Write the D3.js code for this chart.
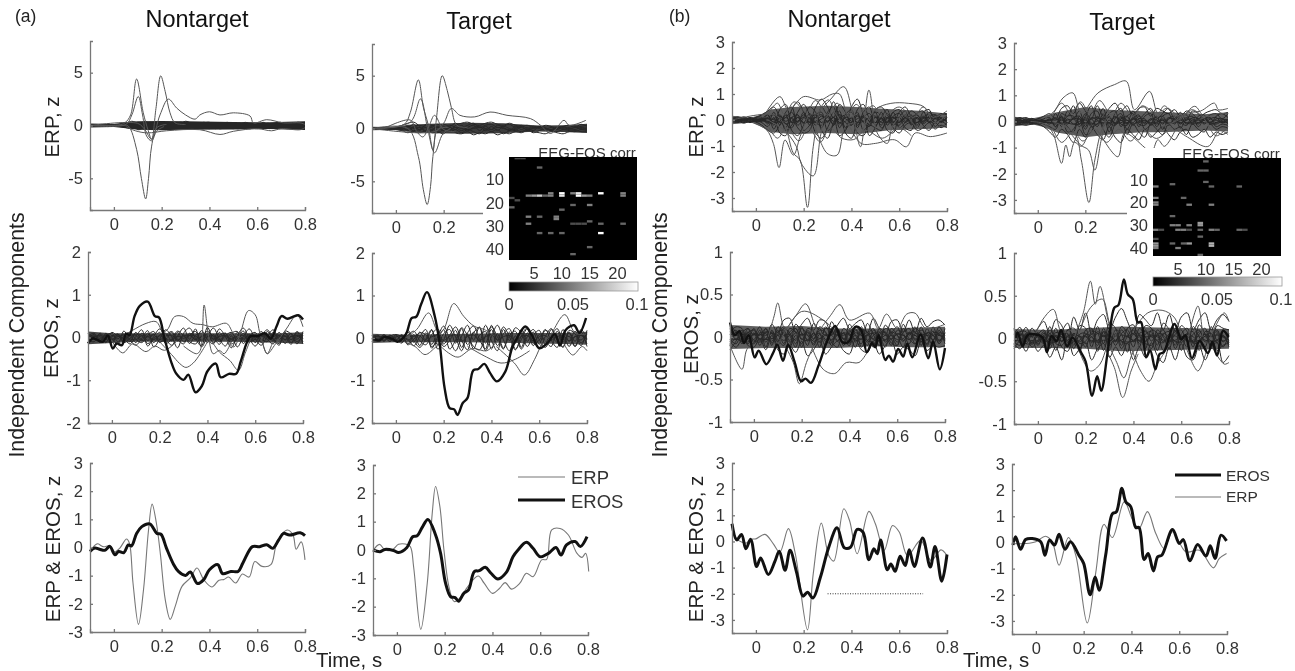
<!DOCTYPE html>
<html>
<head>
<meta charset="utf-8">
<script src="https://cdn.jsdelivr.net/npm/d3@7"></script>
<style>
  html, body { margin: 0; background: #fff; }
  svg { display: block; filter: blur(0.35px); font-family: "Liberation Sans", Arial, sans-serif; }
</style>
</head>
<body>
<svg id="chart" width="1295" height="671"></svg>
<script>
// Grand average traces, as [time, z] at the turning points
const aNtEros = [[-.1,-.14],[-.08,-.02],[-.06,-.06],[-.038,-.1],[-.017,.04],[.004,-.26],[.02,-.14],[.042,-.18],[.06,.09],[.074,.06],[.095,.5],[.117,.74],[.15,.84],[.18,.5],[.197,.47],[.22,-.02],[.25,-.6],[.27,-.85],[.3,-.99],[.32,-.87],[.35,-1.28],[.376,-1.14],[.4,-.79],[.435,-.61],[.455,-.93],[.49,-.85],[.52,-.85],[.54,-.55],[.58,.03],[.61,.03],[.64,.1],[.665,-.03],[.69,.27],[.71,.5],[.735,.44],[.78,.52],[.8,.42]];
const aNtErp = [[-.1,-.14],[-.07,.13],[-.045,.03],[-.017,.06],[.004,-.15],[.025,-.02],[.053,.3],[.065,.15],[.08,-1.26],[.103,-2.73],[.124,-1.5],[.145,.62],[.16,1.54],[.178,.86],[.195,-.26],[.215,-1.85],[.236,-2.55],[.257,-2.08],[.285,-1.38],[.32,-1.08],[.348,-.73],[.376,-1.14],[.41,-1.4],[.44,-1.16],[.46,-1.14],[.48,-1.05],[.51,-1.26],[.538,-.94],[.566,-1.05],[.59,-.5],[.62,-.67],[.657,-.61],[.678,.03],[.706,.5],[.727,.62],[.75,.44],[.763,-.06],[.784,.2],[.8,-.44]];
const aTEros = [[-.1,0],[-.07,-.06],[-.05,.02],[-.014,-.02],[.007,-.09],[.042,.09],[.066,.47],[.085,.5],[.106,.8],[.13,1.08],[.162,.53],[.183,-.12],[.204,-1.18],[.225,-1.65],[.244,-1.68],[.258,-1.81],[.28,-1.53],[.3,-1.41],[.324,-.76],[.345,-.73],[.37,-.61],[.394,-.82],[.423,-1.02],[.458,-.79],[.486,-.24],[.507,0],[.542,.27],[.57,.06],[.6,-.24],[.634,-.12],[.666,.09],[.687,-.18],[.71,.18],[.746,.3],[.768,.12],[.796,.47]];
const aTErp = [[-.1,-.02],[-.073,.2],[-.05,0],[-.02,0],[.007,.2],[.035,.21],[.056,.12],[.07,-.59],[.1,-2.8],[.127,-1.18],[.148,1.3],[.162,2.24],[.18,1.53],[.197,0],[.218,-1.3],[.24,-1.82],[.268,-1.65],[.296,-1.3],[.34,-.92],[.366,-1.18],[.4,-1.53],[.43,-1.35],[.453,-1.15],[.48,-1.38],[.514,-1.18],[.542,-.82],[.57,-.94],[.606,-.35],[.627,-.33],[.648,.71],[.683,.76],[.718,.53],[.754,-.12],[.775,-.26],[.79,-.12],[.803,-.76]];
const bNtEros = [[-.1,.68],[-.08,.06],[-.06,.27],[-.042,-.28],[-.022,.08],[.003,-.96],[.02,-.63],[.052,-1.26],[.08,-.75],[.098,-.37],[.122,-1.1],[.143,-.34],[.17,-1.17],[.197,-2.09],[.216,-1.94],[.239,-2.16],[.27,-1.37],[.305,-.22],[.34,.52],[.37,-.24],[.396,-.22],[.424,.46],[.448,.36],[.473,-.7],[.494,-.28],[.508,-.47],[.522,.06],[.55,-1.08],[.565,-.86],[.583,-1.14],[.604,-.57],[.625,-.92],[.642,-.32],[.663,-.96],[.698,.13],[.73,-.98],[.75,-.19],[.778,-1.52],[.8,-.5]];
const bNtErp = [[-.1,.6],[-.08,.1],[-.04,-.06],[-.022,.08],[0,.1],[.038,.27],[.073,-.09],[.1,-.41],[.136,.49],[.165,-.47],[.216,-3.38],[.24,-1.24],[.274,.7],[.305,-.54],[.326,-.75],[.368,1.25],[.392,.8],[.424,-.47],[.473,1.15],[.5,.68],[.537,-.34],[.572,.61],[.6,.36],[.635,-.54],[.69,.04],[.733,-.73],[.775,-.32],[.8,-.54]];
const bTEros = [[-.096,-.1],[-.085,.22],[-.064,-.26],[-.043,.11],[-.015,.15],[.02,.03],[.038,-.49],[.057,.09],[.078,-.1],[.097,.31],[.122,-.26],[.145,.03],[.18,-.49],[.2,-.8],[.227,-2],[.248,-1.32],[.265,-1.83],[.292,-.49],[.32,1.09],[.337,1.17],[.36,2.07],[.376,1.56],[.397,1.37],[.418,.57],[.432,.57],[.453,-.65],[.47,-.42],[.492,-1.09],[.51,-.55],[.527,-.49],[.572,.5],[.6,-.04],[.617,.11],[.645,-.7],[.677,-.08],[.712,-.52],[.73,-.13],[.75,-.61],[.775,.28],[.798,.06]];
const bTErp = [[-.1,-.05],[-.043,-.04],[0,.03],[.04,.24],[.068,.03],[.097,-.87],[.136,.19],[.167,-.49],[.215,-3.08],[.25,-1.19],[.285,.69],[.32,.19],[.37,1.56],[.405,.86],[.432,.54],[.467,1.18],[.502,.34],[.537,-.23],[.572,.41],[.628,-.36],[.685,-.3],[.743,-.97],[.768,-.61],[.798,-.42]];

// Same components on the EROS panels of (b), which have their own z range
const bNtErosComp = [[-.1,.17],[-.08,.02],[-.06,.07],[-.042,-.07],[-.022,.02],[.003,-.24],[.02,-.16],[.052,-.32],[.08,-.19],[.098,-.09],[.122,-.28],[.143,-.09],[.17,-.29],[.197,-.52],[.216,-.49],[.239,-.54],[.27,-.34],[.305,-.06],[.34,.13],[.37,-.06],[.396,-.06],[.424,.12],[.448,.09],[.473,-.18],[.494,-.07],[.508,-.12],[.522,.02],[.55,-.27],[.565,-.22],[.583,-.29],[.604,-.14],[.625,-.23],[.642,-.08],[.663,-.24],[.698,.03],[.73,-.25],[.75,-.05],[.778,-.38],[.8,-.13]];
const bTErosComp = [[-.096,-.03],[-.085,.07],[-.064,-.09],[-.043,.04],[-.015,.05],[.02,.01],[.038,-.16],[.057,.03],[.078,-.03],[.097,.1],[.122,-.09],[.145,.01],[.18,-.16],[.2,-.27],[.227,-.67],[.248,-.44],[.265,-.61],[.292,-.16],[.32,.36],[.337,.39],[.36,.69],[.376,.52],[.397,.46],[.418,.19],[.432,.19],[.453,-.22],[.47,-.14],[.492,-.36],[.51,-.18],[.527,-.16],[.572,.17],[.6,-.01],[.617,.04],[.645,-.23],[.677,-.03],[.712,-.17],[.73,-.04],[.75,-.2],[.775,.09],[.798,.02]];

// Individual components that stand clear of the bundle
const aNtErpOut = [
  [[-.1,0],[.02,.05],[.046,.25],[.07,1],[.095,4.4],[.123,1.2],[.144,-.5],[.158,-1.3],[.176,1.6],[.196,4.7],[.215,3.2],[.235,1.2],[.256,.25],[.3,.1]],
  [[-.1,0],[.03,0],[.06,-.05],[.095,-2.25],[.115,-5],[.133,-6.95],[.145,-5],[.158,-1.95],[.18,-.2],[.22,.1]],
  [[-.1,0],[.05,.1],[.075,1],[.102,2.75],[.12,1],[.137,-1],[.158,-1.45],[.18,-.5],[.21,-.1]],
  [[-.1,0],[.1,.2],[.13,-.4],[.158,-1.3],[.193,1],[.228,2.5],[.263,1.65],[.3,1],[.34,.6],[.36,1],[.4,1.3],[.444,1],[.5,1.2],[.57,.9],[.584,.25],[.64,.55],[.71,.25],[.78,.25],[.8,.1]],
  [[.05,-.1],[.09,-.5],[.14,-.7],[.22,-.5],[.36,-.4],[.444,-.85],[.5,-.55],[.6,-.3],[.66,-.5],[.7,-.3],[.78,-.4],[.8,-.2]]
];
const aTErpOut = [
  [[-.1,0],[.035,.4],[.06,1.5],[.094,4.6],[.115,2],[.134,.47],[.155,-2],[.17,1],[.194,5],[.215,3.6],[.232,2],[.255,.3],[.3,.1]],
  [[-.1,0],[.05,0],[.094,-2.65],[.115,-5.8],[.131,-7.2],[.145,-5.5],[.155,-2.65],[.176,-.1],[.22,.1]],
  [[-.1,0],[.06,.6],[.103,2.8],[.134,-.15],[.162,-2.3],[.197,-.5],[.23,0]],
  [[-.05,0],[.06,.8],[.085,-.2],[.113,-.8],[.14,.3],[.162,1.25],[.2,-.1],[.25,-.3]],
  [[-.1,0],[.16,-.3],[.2,.5],[.232,1.9],[.268,1.25],[.33,1.1],[.394,1.56],[.465,1.25],[.563,.94],[.606,.3],[.648,-.47],[.704,.78],[.725,.3],[.796,.78]]
];
const bNtErpOut = [
  [[-.1,0],[.08,.2],[.122,-.25],[.157,-1.28],[.185,-1.54],[.216,-3.36],[.24,-1.03],[.274,.51],[.305,.77],[.33,.3],[.36,-.1]],
  [[.05,0],[.12,-.4],[.17,-1.03],[.19,-1.67],[.24,-2.15],[.27,-.64],[.29,.1],[.33,.3]],
  [[-.01,-.1],[.045,-.38],[.073,-.9],[.097,-1.83],[.122,-.77],[.157,-1.35],[.185,-.64],[.22,.2]],
  [[.24,.1],[.31,.77],[.368,1.28],[.402,.4],[.438,-1.03],[.473,1.15],[.508,-.5],[.55,-.9],[.572,-.25],[.62,.2],[.68,-.3],[.8,-.2]],
  [[.03,.1],[.1,.9],[.136,.4],[.2,.9],[.27,.77],[.32,1],[.35,1],[.39,.1],[.43,.3]],
  [[.25,-.3],[.298,-1.28],[.34,-1.35],[.375,-.25],[.42,-.1]],
  [[.38,0],[.44,-.9],[.5,-.9],[.58,-.76],[.63,-1.03],[.667,-.5],[.73,-.64],[.8,-.5]],
  [[.44,-.5],[.5,.4],[.565,.64],[.64,.64],[.705,.5],[.745,-.1],[.8,.2]],
  [[.05,.2],[.09,.65],[.12,.2],[.16,.7],[.21,.3],[.25,.75],[.3,.2],[.34,.65],[.38,.15],[.42,.6],[.46,.1]],
  [[.05,-.2],[.09,-.7],[.13,-.3],[.18,-.8],[.22,-.3],[.27,-.85],[.31,-.3],[.36,-.7],[.41,-.75],[.46,-.4],[.53,-.7],[.6,-.3],[.65,-.6]],
  [[.45,.2],[.49,.55],[.53,.15],[.6,.5],[.66,.1],[.7,.5],[.74,.1],[.8,.35]]
];
const bTErpOut = [
  [[.06,0],[.155,-.45],[.183,-1.47],[.215,-3.1],[.24,-1.47],[.275,-.2],[.32,.3]],
  [[-.03,0],[.03,-.1],[.064,-.45],[.1,-1.6],[.118,-.9],[.134,-1.35],[.155,-.8],[.183,-.95],[.22,-.3]],
  [[.1,0],[.18,-.9],[.214,-1.1],[.24,-1.86],[.267,-.7],[.295,.2],[.33,.3]],
  [[.03,.1],[.07,.4],[.106,.9],[.148,1.09],[.183,.32],[.253,1.09],[.323,1.41],[.372,1.54],[.407,.45],[.47,1.15],[.505,.3],[.532,.6],[.58,.1]],
  [[.25,-.3],[.337,-1.35],[.365,-.45],[.45,-1],[.477,-1.22],[.505,-.7],[.533,-.95],[.58,-.3]],
  [[.56,-.1],[.62,.3],[.685,.4],[.743,.7],[.76,.45],[.8,.5]],
  [[.58,-.3],[.63,-.6],[.715,-.96],[.765,-.35],[.8,-.5]],
  [[.52,-.2],[.6,.1],[.66,.58],[.7,.2],[.76,.3],[.8,.3]],
  [[.06,.2],[.1,.7],[.14,.3],[.18,.75],[.22,.3],[.26,.8],[.31,.25],[.35,.7],[.4,.2],[.44,.6],[.5,.2]],
  [[.06,-.2],[.1,-.8],[.15,-.4],[.19,-.75],[.24,-.3],[.29,-.8],[.34,-.3],[.39,-.75],[.44,-.3],[.5,-.65],[.56,-.2]],
  [[.5,.1],[.54,.5],[.6,.2],[.65,.45],[.7,.1],[.75,-.55],[.8,-.2]]
];
const aNtErosOut = [
  [[.18,.05],[.23,.17],[.263,.49],[.3,.49],[.34,.33],[.38,.3],[.42,.25],[.48,.33],[.51,.09],[.54,0]],
  [[.3,-.2],[.354,-.38],[.37,-.3],[.386,.76],[.403,.09],[.424,-.38],[.45,-.3],[.47,-.38],[.5,-.1]],
  [[.2,-.1],[.25,-.4],[.284,-.61],[.31,-.7],[.34,-.6],[.37,-.38],[.4,-.1]],
  [[.47,0],[.51,-.22],[.537,.09],[.572,.63],[.6,.53],[.62,.09],[.65,-.38],[.67,-.15]],
  [[.42,-.1],[.45,-.34],[.494,-.54],[.53,-.77],[.557,-.38],[.58,-.05]],
  [[.63,-.1],[.65,-.38],[.685,-.15],[.73,.2],[.775,.53],[.8,.25]],
  [[.05,.05],[.087,.17],[.143,.33],[.185,.37],[.215,.09],[.24,-.05]],
  [[-.01,0],[.045,-.36],[.087,-.15],[.143,-.33],[.18,-.2],[.22,-.3],[.27,-.1]]
];
const aTErosOut = [
  [[.16,0],[.2,.2],[.242,.81],[.284,.51],[.327,.28],[.37,.2],[.41,.05]],
  [[.04,0],[.087,.2],[.137,.59],[.17,.2],[.2,0]],
  [[.42,-.2],[.496,-.59],[.538,-.87],[.58,-.51],[.615,-.05]],
  [[.62,-.1],[.65,.1],[.707,.55],[.75,.12],[.796,.09]],
  [[.3,-.2],[.38,-.45],[.44,-.59],[.5,-.5],[.56,-.3]],
  [[.04,-.1],[.08,-.2],[.122,-.39],[.17,-.2],[.21,-.05]],
  [[.17,-.1],[.22,-.35],[.26,-.45],[.32,-.25],[.38,-.3],[.42,-.1]],
  [[.7,-.1],[.74,-.4],[.78,-.2],[.8,-.3]]
];
const bNtErosOut = [
  [[.06,0],[.085,.25],[.1,.4],[.13,.1],[.175,.25],[.217,.39],[.262,.1],[.3,0]],
  [[.24,-.1],[.29,-.38],[.338,-.43],[.387,-.3],[.44,-.3],[.48,-.15]],
  [[.28,.1],[.32,.25],[.36,.38],[.4,.2],[.485,.28],[.52,.1],[.555,.27],[.6,.1],[.64,.27],[.675,.28],[.72,.1],[.8,.15]],
  [[-.1,-.1],[-.05,-.38],[-.03,-.15],[0,-.05]],
  [[.13,-.1],[.165,-.3],[.19,-.55],[.22,-.3],[.25,-.1]],
  [[.1,-.1],[.2,.3],[.29,.2],[.33,.1]]
];
const bTErosOut = [
  [[.15,0],[.19,.3],[.22,.67],[.24,.4],[.26,.61],[.295,.2],[.32,0]],
  [[.17,.05],[.22,.36],[.27,.46],[.3,.18],[.33,.02]],
  [[.28,-.1],[.32,-.34],[.355,-.69],[.39,-.38],[.42,-.18]],
  [[.3,-.1],[.33,-.28],[.36,-.46],[.395,-.18],[.43,-.05]],
  [[.39,-.1],[.43,-.38],[.465,-.5],[.5,-.3],[.535,-.14]],
  [[.16,-.05],[.22,-.38],[.26,-.3],[.29,-.1],[.32,0]],
  [[-.02,0],[.025,.24],[.065,.34],[.1,.07],[.14,.1]],
  [[.62,-.1],[.67,.38],[.69,.02]],
  [[.62,-.1],[.67,-.38],[.71,-.1]],
  [[.72,0],[.78,.3],[.8,.2]],
  [[.72,-.05],[.78,-.3],[.8,-.28]],
  [[.4,.1],[.46,.3],[.52,.33],[.57,.25],[.6,.05]]
];

// Where the bundle prints solid black: upper and lower edge of that core
const aNtErpCore = [[[-.1,.2],[0,.14],[.05,.3],[.1,.4],[.2,.42],[.3,.4],[.5,.34],[.65,.3],[.8,.4]], [[-.1,-.2],[0,-.14],[.05,-.25],[.1,-.4],[.2,-.45],[.3,-.4],[.5,-.38],[.65,-.32],[.8,-.42]]];
const aTErpCore = [[[-.1,.16],[0,.12],[.05,.35],[.15,.45],[.3,.55],[.45,.5],[.6,.28],[.7,.3],[.8,.45]], [[-.1,-.16],[0,-.12],[.05,-.3],[.15,-.45],[.3,-.5],[.45,-.45],[.6,-.28],[.7,-.32],[.8,-.42]]];
const aNtErosCore = [[[-.1,.14],[0,.1],[.1,.1],[.3,.1],[.5,.1],[.7,.1],[.8,.12]], [[-.1,-.16],[0,-.13],[.1,-.1],[.3,-.1],[.5,-.1],[.7,-.12],[.8,-.15]]];
const aTErosCore = [[[-.1,.1],[0,.08],[.1,.08],[.3,.1],[.5,.12],[.7,.12],[.8,.15]], [[-.1,-.12],[0,-.1],[.1,-.1],[.3,-.1],[.5,-.12],[.7,-.14],[.8,-.16]]];
const bNtErpCore = [[[-.1,.16],[-.02,.1],[.02,.2],[.06,.4],[.15,.5],[.3,.55],[.42,.5],[.55,.42],[.7,.35],[.8,.25]], [[-.1,-.16],[-.02,-.1],[.02,-.25],[.06,-.45],[.15,-.55],[.3,-.5],[.42,-.55],[.55,-.4],[.7,-.35],[.8,-.28]]];
const bTErpCore = [[[-.1,.18],[-.02,.12],[.02,.2],[.08,.35],[.2,.55],[.3,.45],[.42,.4],[.55,.35],[.7,.28],[.8,.35]], [[-.1,-.18],[-.02,-.12],[.02,-.2],[.08,-.42],[.2,-.6],[.3,-.5],[.42,-.42],[.55,-.4],[.7,-.35],[.8,-.38]]];
const bNtErosCore = [[[-.1,.14],[.05,.12],[.2,.13],[.35,.1],[.5,.1],[.65,.11],[.8,.12]], [[-.1,-.14],[.05,-.13],[.2,-.13],[.35,-.13],[.5,-.11],[.65,-.12],[.8,-.12]]];
const bTErosCore = [[[-.1,.11],[.05,.1],[.2,.12],[.35,.14],[.5,.13],[.65,.12],[.8,.11]], [[-.1,-.11],[.05,-.11],[.2,-.12],[.35,-.15],[.5,-.14],[.65,-.13],[.8,-.12]]];

// Dense bundle, sampled every 25 ms
const bandTimes = d3.range(37).map(i => -0.1 + i * 0.025);
const aNtErpBand = [
  [0,.1,0,.1,0,.1,.2,.4,.2,-.3,.1,.3,.1,-.2,0,.3,.2,-.1,.1,.3,.2,.1,.2,-.1,.1,.2,0,-.2,.1,.2,.1,-.1,.2,.1,-.1,.1,.2],
  [0,-.1,0,-.1,0,-.1,-.2,-.3,-.1,.2,-.3,-.2,-.3,.1,-.2,-.1,-.3,.1,-.2,-.3,0,-.2,-.3,.1,-.2,-.3,.1,-.1,-.3,-.1,-.2,.1,-.2,-.1,.1,-.2,-.3],
  [0,0,.1,0,.1,0,.3,.1,-.2,.4,.2,-.1,.3,.2,-.1,.1,.4,.2,-.1,.2,.3,-.1,.1,.3,0,.1,.3,.1,-.1,.3,0,.2,.3,0,.2,.3,.1],
  [0,0,-.1,0,-.1,.1,-.1,.2,-.4,-.2,.1,-.4,-.1,-.3,.2,-.3,-.1,-.3,0,-.1,-.3,.1,-.2,-.1,-.3,.1,-.2,-.3,.1,-.1,-.3,-.1,-.1,-.3,-.1,-.1,-.2],
  [.1,0,0,.1,0,0,.1,-.2,.2,.1,-.2,.2,-.2,.3,.1,-.2,.1,.2,-.3,.1,-.1,.2,.1,-.2,.2,-.1,.1,.2,-.1,.1,.2,-.2,.1,.2,-.1,0,.1],
  [-.1,0,0,-.1,.1,0,.2,-.1,.1,-.3,.3,.1,-.2,.1,-.1,.2,-.2,.1,.2,-.1,.1,-.3,.2,0,-.1,.2,-.1,0,.2,-.1,.1,-.1,0,.2,0,-.1,0],
  [0,0,.1,-.1,0,.1,-.1,.1,-.1,.1,-.1,.1,0,-.1,.1,0,-.1,0,.1,0,-.1,.1,0,-.1,0,.1,-.1,0,.1,0,-.1,.1,0,-.1,.1,0,-.1]
];
const aTErpBand = [
  [0,0,.1,0,.1,.3,.5,.6,.2,-.3,.2,.4,.2,-.2,.3,.5,.6,.4,.3,.5,.6,.4,.3,.5,.3,.2,.3,.1,.2,0,-.1,.1,.2,0,.1,.2,.3],
  [0,-.1,0,-.1,-.1,-.2,-.4,-.2,-.1,.3,-.4,-.3,-.5,.1,-.4,-.5,-.3,-.6,-.4,-.5,-.3,-.6,-.4,-.5,-.3,-.4,-.2,-.3,-.4,-.5,-.3,-.4,-.5,-.3,-.2,-.3,-.3],
  [0,.1,0,.1,0,.2,.1,.4,-.2,.4,.3,-.1,.4,.2,.5,.1,.3,.5,.1,.3,.4,.1,.2,.4,.1,.3,0,.2,.1,.3,.2,0,.2,.3,.1,.4,.2],
  [0,0,-.1,0,-.1,-.1,.2,-.3,-.4,-.2,.1,-.4,-.1,-.3,-.1,-.4,-.1,-.3,-.5,-.1,-.3,-.1,-.5,-.2,-.1,-.3,-.1,-.4,-.2,0,-.2,-.3,-.1,-.2,-.3,-.1,-.2],
  [.1,0,0,.1,0,.1,-.2,.2,.3,.1,-.2,.2,-.2,.3,.1,-.2,.1,.3,-.2,.2,-.1,.3,.1,-.2,.2,-.1,.1,-.2,.2,.1,-.2,.1,-.1,.1,.2,-.1,.1],
  [-.1,0,.1,-.1,0,-.1,.2,0,.1,-.2,.3,.1,-.2,.1,-.1,.3,-.2,.1,.2,-.2,.2,-.2,.2,0,-.2,.2,-.2,.1,0,-.1,.1,-.1,.1,0,-.1,.1,0],
  [0,0,-.1,.1,0,0,-.1,.1,-.1,.1,-.1,.1,0,-.1,.1,0,-.1,0,.1,0,-.1,.1,0,-.1,0,.1,-.1,0,.1,0,-.1,.1,0,-.1,.1,0,-.1]
];
const aNtErosBand = [
  [.1,-.05,.08,-.1,.05,-.03,.08,-.1,.12,-.05,.1,-.12,.06,.1,-.08,.12,-.1,.05,.14,-.08,.1,-.12,.05,.1,-.1,.12,-.06,.08,-.12,.1,.05,-.08,.12,-.05,.1,-.1,.05],
  [-.12,.06,-.08,.1,-.06,.08,-.1,.05,-.12,.1,-.07,.08,-.1,-.05,.12,-.08,.06,-.14,.05,.1,-.12,.07,-.1,.04,.12,-.07,.1,-.12,.06,-.04,-.1,.12,-.05,.1,-.12,.06,-.1],
  [.03,.1,-.06,.04,.1,-.1,.04,.12,-.04,-.12,.05,.14,-.12,.04,.14,-.04,-.15,.1,-.05,.16,-.04,-.15,.12,-.04,.1,.14,-.14,.04,.12,-.12,.14,-.04,-.14,.12,-.05,.14,-.02],
  [-.05,-.1,.1,-.04,-.12,.06,-.12,-.02,.08,.05,-.14,-.03,.12,-.14,-.04,.15,.04,-.1,-.15,.03,.14,.02,-.16,.1,-.15,-.03,.15,-.08,-.04,.14,-.04,-.15,.06,-.14,.03,-.04,.1],
  [.06,-.02,.02,-.12,.12,.03,-.02,-.15,.02,.18,-.2,.02,.2,-.02,-.18,.03,.22,-.04,.2,-.22,.02,.22,-.03,-.2,.04,-.22,.02,.2,-.03,-.18,.02,.18,-.02,.03,-.16,.12,-.15],
  [-.02,.07,-.12,.07,-.02,-.15,.15,-.06,-.18,-.02,.16,-.22,-.04,.18,.02,-.24,.1,.22,-.02,-.2,.24,-.04,.2,.02,-.24,.04,.22,-.02,-.2,.02,.18,-.02,-.18,.15,.08,-.15,.14],
  [.08,.02,.05,-.04,.02,.08,-.05,.04,.05,-.08,.02,.06,-.05,.03,.05,-.06,.03,.05,-.05,.02,.06,-.04,.02,.05,-.05,.03,.05,-.06,.03,.05,-.04,.02,.05,-.06,.02,.05,-.03],
  [-.06,.03,-.02,.05,-.04,.02,.05,-.03,-.05,.04,.02,-.05,.04,-.02,-.06,.03,-.02,.05,.03,-.05,.02,.04,-.05,.02,-.03,.05,-.02,.04,-.05,.02,.06,-.04,.02,.04,-.05,.02,.05]
];
const aTErosBand = [
  [.06,-.04,.08,-.08,.05,-.03,.14,-.1,.14,-.05,.18,-.16,.1,.2,-.12,.22,-.16,.12,.25,-.12,.2,-.18,.1,.22,-.12,.2,-.08,.14,-.15,.18,.08,-.1,.2,-.08,.16,-.12,.1],
  [-.08,.05,-.06,.07,-.05,.08,-.14,.08,-.18,.12,-.15,.1,-.2,-.06,.18,-.22,.08,-.25,.06,.15,-.26,.1,-.24,.05,.16,-.22,.12,-.18,.08,-.06,-.2,.16,-.1,.12,-.2,.08,-.14],
  [.03,.07,-.05,.04,.08,-.1,.06,.16,-.06,-.16,.08,.22,-.14,.06,.26,-.05,-.28,.14,-.08,.3,-.06,-.3,.2,-.06,.24,.12,-.2,.06,.18,-.16,.2,-.05,-.2,.14,-.08,.2,-.03],
  [-.05,-.07,.07,-.03,-.08,.06,-.16,-.03,.12,.08,-.2,-.04,.2,-.26,-.05,.24,.06,-.2,-.28,.05,.26,.03,-.26,.14,-.26,-.04,.22,-.12,-.05,.2,-.05,-.22,.08,-.2,.04,-.05,.14],
  [.05,-.02,.02,-.08,.08,.03,-.03,-.18,.03,.2,-.24,.03,.28,-.03,-.3,.04,.3,-.05,.26,-.3,.03,.3,-.04,-.3,.05,-.26,.03,.2,-.04,-.22,.03,.22,-.03,.04,-.2,.14,-.2],
  [-.02,.05,-.08,.05,-.02,-.12,.18,-.06,-.22,-.03,.2,-.26,-.05,.3,.02,-.3,.12,.28,-.03,-.26,.3,-.05,.26,.03,-.28,.05,.24,-.03,-.24,.03,.22,-.03,-.22,.18,.1,-.18,.18],
  [.06,.02,.04,-.04,.02,.06,-.05,.04,.05,-.08,.03,.07,-.06,.04,.07,-.08,.04,.07,-.06,.03,.08,-.05,.03,.06,-.06,.03,.06,-.07,.03,.06,-.05,.03,.06,-.07,.03,.06,-.04]
];
const bNtErpBand = [
  [.1,.05,.12,.02,.1,.2,.35,.5,.1,-.3,.4,.7,.3,-.1,.5,.8,.5,.1,.6,.3,-.2,.4,.6,.1,.3,.2,-.1,.3,.4,.1,.35,.2,-.05,.3,.1,.25,.2],
  [-.1,-.05,-.12,-.05,-.08,-.2,-.4,-.5,-.2,.2,-.4,-.6,-.2,.1,-.5,-.7,-.3,.1,-.6,-.4,.1,-.5,-.6,-.2,-.3,-.4,.1,-.3,-.5,-.2,-.1,-.4,-.3,-.1,-.35,-.2,-.3],
  [.05,.12,.02,.08,.02,.05,.2,-.2,.4,.6,-.1,.3,.6,.2,-.2,.5,.2,.7,.1,-.3,.5,.8,.2,-.2,.4,.5,.2,-.1,.3,.5,.1,-.2,.3,.4,-.1,.2,.25],
  [-.05,-.1,-.02,-.1,-.02,-.1,-.25,.1,-.5,-.6,.1,-.3,-.5,-.4,.2,-.4,-.7,-.1,.2,-.5,-.7,-.1,.1,-.6,-.3,.1,-.4,-.5,.1,-.3,-.4,.1,-.2,-.4,-.1,-.3,-.1],
  [.08,-.03,.1,-.03,.1,.1,-.15,.3,-.2,.3,.5,-.2,.1,.5,.3,-.3,.3,.5,-.3,.2,.4,-.3,.3,.5,-.2,.1,.4,-.2,.1,.35,-.2,.25,.35,-.1,.2,.05,.15],
  [-.08,.03,-.1,.03,-.05,-.05,.2,-.35,.1,-.4,-.2,.2,-.4,-.2,.2,.3,-.4,-.2,.35,-.3,-.1,.3,-.4,-.1,.3,-.3,-.1,.3,-.3,-.1,.2,-.3,.1,.2,-.25,-.05,-.2],
  [.03,.08,-.05,.1,.03,.02,.1,.2,-.1,.1,.3,-.1,.3,-.2,.1,.2,-.1,.3,-.1,.1,.3,-.2,.1,.25,-.1,.3,-.2,.15,.25,-.05,.1,.2,-.1,.15,.2,-.1,.1],
  [-.03,-.08,.05,-.08,-.03,-.02,-.1,-.1,.2,-.15,-.3,.1,-.1,.25,-.1,-.2,.2,-.2,.1,-.1,-.2,.2,-.1,-.25,.1,-.2,.25,-.1,-.2,.1,-.15,-.1,.15,-.1,.05,.1,-.1],
  [.06,.02,.08,-.08,.06,.05,-.05,.05,.15,-.05,.1,.2,-.15,.05,.2,-.1,.1,-.15,.2,.05,-.1,.15,-.05,.1,.15,-.1,.05,.1,-.1,.2,-.05,.1,-.15,.05,.1,-.05,.05],
  [-.06,-.02,-.08,.06,-.06,-.04,.05,-.1,-.05,.1,-.1,-.05,.1,-.1,-.05,.15,-.05,.1,-.15,.1,.05,-.1,.15,-.05,-.1,.05,-.1,.05,.1,-.1,.05,-.1,.05,.1,-.1,.05,-.05],
  [.02,.05,0,.05,0,.02,.05,.02,-.05,.2,.05,-.05,.2,.05,-.1,.05,.15,-.05,.05,.2,-.05,.05,.15,-.05,.1,.05,-.05,.1,-.05,.1,.15,.05,-.05,.1,.05,-.05,.1],
  [-.02,-.05,0,-.05,.02,-.02,-.05,-.05,.05,-.15,-.05,.1,-.1,-.05,.1,-.1,-.05,.1,-.1,-.05,.1,-.1,-.05,.05,-.1,-.05,.1,-.05,-.1,.05,-.05,-.1,.1,-.05,-.1,.05,-.05]
];
const bTErpBand = [
  [.15,.1,.15,.05,.1,.2,.3,.1,.5,.6,.3,.7,.4,.1,.6,.2,.5,.7,.4,.6,.2,.5,.55,.2,.5,.4,.3,.45,.2,.4,.3,.1,.3,.4,.45,.3,.35],
  [-.15,-.1,-.15,-.1,-.1,-.2,-.4,-.6,-.3,-.5,-.8,-.3,-.6,-.2,-.5,-.7,-.2,-.6,-.8,-.3,-.5,-.7,-.3,-.6,-.4,-.2,-.5,-.7,-.4,-.3,-.6,-.5,-.3,-.6,-.4,-.5,-.4],
  [.05,.15,.05,.12,.03,.1,.15,-.2,.3,.2,.6,-.1,.2,.6,.1,.5,-.2,.3,.5,-.1,.4,.1,.3,.5,.1,.3,.5,.1,.35,.05,.4,.3,.1,.25,.3,.1,.3],
  [-.05,-.12,-.03,-.1,-.03,-.1,-.2,-.3,.2,-.4,-.3,.1,-.5,-.4,.2,-.3,-.6,-.1,.2,-.5,-.1,-.4,-.6,-.1,-.3,-.5,-.1,-.3,-.2,-.5,-.1,-.3,-.4,-.1,-.3,-.2,-.25],
  [.1,-.03,.1,-.03,.1,.05,-.1,.3,-.2,.4,.1,.4,-.2,.3,.4,-.2,.3,.4,-.2,.2,.3,-.2,.2,.3,-.2,.2,.3,-.1,.2,.25,-.1,.2,.25,-.1,.2,.3,.15],
  [-.1,.03,-.1,.03,-.1,-.05,.1,-.2,.1,-.2,-.4,.2,-.3,.1,-.2,.3,-.4,.1,.3,-.3,.1,.25,-.3,-.1,.2,-.3,.1,.2,-.25,.1,.2,-.2,.1,.15,-.2,-.1,-.15],
  [.03,.08,-.05,.1,.03,.03,.05,.15,-.1,.2,.2,-.1,.3,-.15,.1,.1,.15,-.1,.1,.2,-.15,.1,.1,-.15,.1,.2,-.1,.05,.2,-.1,.15,.1,-.1,.1,.15,-.05,.1],
  [-.03,-.08,.05,-.08,-.03,-.02,-.05,-.1,.2,-.1,.1,-.2,.1,-.2,-.1,.15,-.1,.2,-.1,-.15,.15,-.1,-.15,.1,-.1,.05,-.15,.1,-.05,-.15,.05,-.1,.1,-.1,-.05,.1,-.1],
  [.08,.02,.05,-.06,.05,.02,.08,.05,.15,-.05,.15,.2,-.1,.15,.05,-.1,.2,-.1,.15,.05,-.05,.2,-.1,.05,.15,-.1,.1,.1,-.1,.15,-.05,.1,.05,-.05,.1,.1,.05],
  [-.08,-.02,-.05,.06,-.05,-.03,-.05,-.05,-.1,.1,-.1,-.1,.15,-.05,-.1,.1,-.05,-.15,.05,-.1,.1,-.05,.05,-.1,-.05,.1,-.05,-.05,.1,-.05,-.1,-.05,.1,-.05,-.1,0,-.05],
  [.02,.05,0,.05,0,.02,.03,.1,-.05,.05,.1,.1,-.05,.1,.15,.05,-.05,.15,.05,-.05,.1,.05,-.05,.1,.05,-.05,.15,.05,-.05,.05,.1,-.05,.05,.1,-.05,.05,.05],
  [-.02,-.05,0,-.05,.02,-.02,-.03,-.05,.05,-.05,-.1,0,.05,-.1,.02,-.05,.05,-.05,-.05,.05,-.1,0,.02,-.05,-.02,.05,-.08,-.02,.05,-.05,-.02,.05,-.05,-.02,.05,-.05,0]
];
const bNtErosBand = [
  [.16,.05,-.05,.1,.02,.12,-.03,.15,.05,.2,.22,.05,.15,.22,.08,.2,.18,.03,.14,.22,.1,.16,.2,.05,.22,.1,.02,.18,.2,.06,.2,.05,.22,.12,.18,.2,.14],
  [-.15,-.05,.08,-.1,-.12,-.02,-.15,.02,-.15,-.2,-.1,-.18,-.05,-.22,-.15,-.05,-.2,-.12,-.05,-.16,-.2,-.03,-.15,-.18,-.06,-.2,-.1,-.03,-.2,-.12,-.15,-.22,-.05,-.16,-.1,-.12,-.1],
  [.06,.12,.1,-.03,.1,-.05,.1,-.1,.12,.03,-.1,.15,.05,-.1,.16,.05,-.1,.18,.04,-.08,.15,.02,-.08,.16,.03,-.1,.14,.03,-.1,.15,.02,.12,-.1,.05,.02,-.06,.1],
  [-.05,-.12,-.02,.05,-.03,.08,-.12,.08,-.05,.1,.05,-.08,.1,.02,-.08,.08,.05,-.1,.08,-.02,-.1,.08,.02,-.1,.08,.02,-.12,.1,.02,-.12,.06,-.08,.05,-.1,.05,.04,-.05],
  [.1,-.03,.05,.1,-.06,.05,.04,-.05,.08,-.08,.1,.06,-.12,.08,-.02,.12,.06,-.06,-.12,.1,.03,-.12,.08,.06,-.12,.1,.04,-.1,.08,.04,-.08,.1,.04,-.08,.12,-.04,.05],
  [-.1,.06,.02,-.06,.05,-.1,.06,.04,-.1,.06,-.12,.02,-.08,.1,.06,-.12,.12,.02,.1,-.1,.06,.1,-.12,.02,.1,-.06,.1,.06,-.06,.05,.1,-.04,.08,.02,-.1,.08,-.08],
  [.03,.08,-.08,.05,.08,-.03,.06,-.07,.03,.12,.02,-.12,.12,-.05,.05,-.06,.1,.08,-.04,.05,-.08,.12,.05,-.06,.02,.06,-.06,.04,.12,-.04,.04,.06,-.06,.1,-.04,.12,-.02],
  [-.03,-.08,.04,-.04,-.08,.04,-.06,.06,-.03,-.1,.06,.1,-.03,.05,-.1,.03,-.05,-.07,.1,-.03,.08,-.06,.12,-.04,-.05,.03,.05,-.07,-.1,.1,-.02,-.08,.12,-.04,.07,-.08,.05],
  [.12,.02,.04,-.08,.04,.02,.1,-.02,.06,.08,-.04,.05,.02,.06,-.03,.1,-.03,.05,.02,.04,-.03,.05,.02,.05,-.02,.05,.06,-.03,.04,.02,-.03,.04,.02,.04,-.03,.05,.03],
  [-.08,-.02,-.05,.06,-.04,-.06,-.02,.05,-.06,.02,.03,-.04,.04,-.03,.04,-.02,.03,-.04,.02,.02,.04,-.04,-.02,.03,.04,-.02,-.04,.02,-.03,-.02,.04,-.02,-.03,.02,-.03,.02,-.04],
  [.02,.05,.03,.02,-.06,.03,.02,.04,.02,-.04,.02,.1,-.02,-.04,.02,.04,.02,.02,-.05,.05,.02,-.02,.04,-.04,.05,.02,-.03,.06,.02,-.05,.05,.02,-.02,.05,.02,-.04,.02],
  [-.02,-.03,-.02,-.02,.03,-.02,-.03,-.02,.02,.03,-.06,-.02,.03,.02,-.05,-.02,.02,-.03,.03,-.02,-.04,.02,-.03,.02,-.03,-.04,.02,-.02,.03,.02,-.03,.02,-.05,-.03,.02,.03,-.03]
];
const bTErosBand = [
  [.1,.03,.13,.02,.12,.2,.05,.22,.15,-.05,.25,.1,.3,.05,.22,.28,.1,.25,.35,.2,.05,.28,.22,.15,.3,.1,.28,.08,.25,.3,.1,.22,.3,.1,.22,.28,.2],
  [-.12,-.03,-.15,-.02,-.15,-.08,-.22,-.1,-.25,.05,-.2,-.12,-.05,-.25,-.12,-.06,-.22,-.1,-.2,-.05,-.25,-.1,-.22,-.05,-.2,-.28,-.1,-.25,-.06,-.22,-.25,-.08,-.25,-.1,-.05,-.28,-.2],
  [.05,.13,-.04,.12,.02,-.06,.14,-.05,.08,.18,-.08,.15,.12,-.1,.14,-.06,.18,.12,-.08,.12,.16,-.1,.15,.12,-.08,.18,.1,-.08,.15,.08,-.1,.16,.05,-.08,.15,.12,.1],
  [-.06,-.12,.05,-.1,-.02,.08,-.12,.04,-.1,-.15,.06,-.16,.1,.12,-.15,.08,-.14,.1,.05,-.16,.12,.04,-.12,.1,.06,-.14,-.06,.1,-.14,.05,.08,-.14,.08,.06,-.14,-.08,-.05],
  [.12,-.05,.06,.06,-.08,.03,-.08,.12,-.04,.1,.12,.02,-.1,.08,.06,-.14,.1,-.04,.14,.06,-.1,.12,.02,-.12,.1,.02,-.12,.12,.02,-.1,.14,.02,-.1,.14,-.02,.1,-.05],
  [-.1,.07,-.06,-.05,.07,-.05,.06,-.14,.02,-.1,.04,-.12,.05,.02,-.08,.12,-.06,.05,-.12,.03,.1,-.06,.05,.08,-.14,.05,.08,-.12,.05,.12,-.04,.05,.12,-.12,.06,-.1,.06],
  [.03,.08,.08,-.07,.05,.1,-.03,.07,.05,.06,-.12,.05,.06,-.05,.08,.03,.05,-.08,.06,.1,-.04,.06,.08,.03,.04,.1,-.04,.05,.1,-.04,.05,.1,-.04,.05,.1,-.04,.04],
  [-.04,-.08,.03,.05,-.06,.04,.03,-.06,-.08,.03,.04,-.06,-.03,.05,-.04,.04,-.08,.03,-.04,-.06,.05,-.03,-.06,-.08,.04,-.04,.05,-.04,-.03,.05,-.06,-.04,.03,.06,-.05,.04,-.1],
  [.06,.02,-.06,.04,.06,-.03,.1,.02,-.03,.1,.03,-.04,.04,.1,-.03,.08,.03,-.03,.1,.02,.06,-.03,.1,-.03,.06,.04,-.03,.08,.02,.03,-.05,.08,.02,.03,.08,-.03,.02],
  [-.07,.04,.03,-.05,-.04,.02,-.05,-.03,.05,-.03,-.04,.03,-.06,.02,-.05,-.02,-.04,.06,-.03,-.04,-.03,.02,-.04,.05,-.03,-.05,.02,-.03,-.05,.02,-.04,-.02,.05,-.03,-.03,.02,-.07],
  [.02,.05,.02,.02,-.03,.06,.02,.03,.02,-.02,.06,.02,.02,-.03,.06,.02,.03,-.02,.04,.02,-.02,.04,.02,.02,-.02,.06,.02,.03,-.02,.06,.02,-.03,.05,.02,.04,.02,-.02],
  [-.03,-.02,.02,-.03,.02,-.03,-.03,.02,-.03,.02,-.03,-.02,.03,-.03,-.02,.03,-.02,-.03,-.02,.03,-.03,-.02,-.03,.03,.02,-.02,-.03,-.02,.03,-.03,-.02,.03,-.02,-.03,-.02,.03,-.02]
];

// Correlation matrices, non-zero cells only: [row, column, r]
const matrixAColumns = 23, matrixARows = 44;
const matrixACells = [[1,2,.03],[1,3,.03],[5,6,.04],[17,4,.05],[17,5,.06],[17,6,.08],[17,7,.04],[16,8,.05],[17,8,.05],[16,10,.1],[17,10,.09],[16,12,.05],[16,13,.09],[17,13,.1],[17,14,.06],[17,15,.05],[16,17,.1],[16,21,.05],[17,21,.05],[18,1,.03],[19,2,.03],[22,1,.04],[21,12,.04],[21,15,.05],[23,10,.04],[26,4,.05],[26,6,.04],[26,9,.05],[27,9,.05],[29,4,.05],[29,12,.03],[29,13,.03],[29,14,.03],[28,15,.04],[29,17,.04],[29,21,.04],[33,6,.04],[33,8,.04],[33,10,.04],[33,17,.1],[39,15,.04],[42,12,.04]];
const matrixBColumns = 23, matrixBRows = 43;
const matrixBCells = [[2,10,.04],[6,9,.04],[6,10,.04],[11,10,.04],[12,4,.04],[13,1,.05],[13,11,.04],[13,16,.04],[18,1,.05],[18,6,.04],[20,1,.05],[21,1,.05],[21,7,.05],[21,11,.05],[26,4,.04],[30,4,.05],[30,5,.05],[30,7,.05],[29,9,.06],[30,9,.06],[32,1,.05],[32,2,.03],[32,5,.05],[32,6,.05],[32,7,.03],[32,9,.04],[32,11,.05],[32,12,.04],[32,16,.04],[32,17,.03],[35,9,.04],[36,1,.03],[38,1,.06],[38,4,.04],[38,6,.04],[38,7,.06],[38,11,.07],[39,11,.07],[39,1,.06],[40,1,.05],[40,5,.05],[43,9,.04]];

const timeTicks = [0, .2, .4, .6, .8];
const timeDomain = [-.1, .8];
const erpATicks = [-5, 0, 5];
const erosATicks = [-2, -1, 0, 1, 2];
const bothTicks = [-3, -2, -1, 0, 1, 2, 3];
const erosBTicks = [-1, -.5, 0, .5, 1];
const matrixColTicks = [5, 10, 15, 20];
const matrixRowTicks = [10, 20, 30, 40];
const colorbarTicks = [0, .05, .1];

const axisColor = '#777', textColor = '#333', thinColor = '#262626', erpColor = '#777';
const svg = d3.select('#chart');
const line = (x, y) => d3.line().x(d => x(d[0])).y(d => y(d[1])).curve(d3.curveCatmullRom.alpha(.5));

function drawPanel(p) {
  const x = d3.scaleLinear().domain(timeDomain).range([p.left, p.right]);
  const y = d3.scaleLinear().domain(p.yDomain).range([p.bottom, p.top]);
  const g = svg.append('g').attr('fill', 'none');
  const path = line(x, y);

  if (p.core) {
    const outline = [...p.core[0], ...p.core[1].slice().reverse()];
    g.append('path').attr('d', d3.line().x(d => x(d[0])).y(d => y(d[1]))(outline) + 'Z')
      .attr('fill', '#1a1a1a').attr('fill-opacity', p.coreOpacity);
  }
  (p.band || []).forEach(values => {
    g.append('path').attr('d', path(values.map((v, i) => [bandTimes[i], v])))
      .attr('stroke', thinColor).attr('stroke-width', 1);
  });
  (p.outliers || []).forEach(tr => {
    g.append('path').attr('d', path(tr)).attr('stroke', '#555').attr('stroke-width', 1);
  });
  (p.thin || []).forEach(tr => {
    g.append('path').attr('d', path(tr)).attr('stroke', erpColor).attr('stroke-width', 1.1);
  });
  (p.thick || []).forEach(tr => {
    g.append('path').attr('d', path(tr)).attr('stroke', '#111').attr('stroke-width', p.thickWidth);
  });

  const xAxis = d3.axisBottom(x).tickValues(timeTicks.filter(t => !p.hideTicksAfter || t <= p.hideTicksAfter))
    .tickSize(-3).tickPadding(8).tickFormat(d => d3.format('~g')(d));
  const yAxis = d3.axisLeft(y).tickValues(p.yTicks).tickSize(-3).tickPadding(7).tickFormat(d => d3.format('~g')(d).replace('−', '-'));
  [[xAxis, `translate(0,${p.bottom})`], [yAxis, `translate(${p.left},0)`]].forEach(([axis, tf]) => {
    const a = svg.append('g').attr('transform', tf).call(axis);
    a.selectAll('path,line').attr('stroke', axisColor).attr('stroke-width', 1.3);
    a.selectAll('text').attr('fill', textColor).style('font-size', '16.5px').style('font-family', 'inherit');
  });
}

function drawMatrix(m) {
  // white inset background hides the end of the panel behind it
  svg.append('rect').attr('x', m.left - 26).attr('y', m.top - 10).attr('width', m.right - m.left + 34).attr('height', m.bottom - m.top + 10).attr('fill', '#fff');
  const x = d3.scaleBand().domain(d3.range(1, m.cols + 1)).range([m.left, m.right]);
  const y = d3.scaleBand().domain(d3.range(1, m.rows + 1)).range([m.top, m.bottom]);
  const gray = d3.scaleLinear().domain([0, .1]).range(['#000', '#fff']);

  svg.append('rect').attr('x', m.left).attr('y', m.top).attr('width', m.right - m.left).attr('height', m.bottom - m.top).attr('fill', '#000');
  svg.append('g').selectAll('rect').data(m.cells).join('rect')
    .attr('x', d => x(d[1])).attr('y', d => y(d[0]))
    .attr('width', x.bandwidth()).attr('height', y.bandwidth())
    .attr('fill', d => gray(d[2]));

  const label = (tx, ty, s, anchor, size) => svg.append('text').attr('x', tx).attr('y', ty).text(s)
    .attr('text-anchor', anchor).attr('fill', textColor).style('font-size', size + 'px');
  label((m.left + m.right) / 2 + 14, m.top + 1, 'EEG-FOS corr', 'middle', 15);
  svg.append('rect').attr('x', m.left).attr('y', m.top).attr('width', m.right - m.left).attr('height', 1).attr('fill', '#000');
  matrixColTicks.forEach(t => label(x(t) + x.bandwidth() / 2, m.bottom + 19, t, 'middle', 16.5));
  matrixRowTicks.forEach(t => label(m.left - 5, y(t) + y.bandwidth() / 2 + 6, t, 'end', 16.5));

  const id = 'ramp' + m.left;
  const grad = svg.append('defs').append('linearGradient').attr('id', id);
  grad.append('stop').attr('offset', 0).attr('stop-color', '#000');
  grad.append('stop').attr('offset', 1).attr('stop-color', '#fff');
  svg.append('rect').attr('x', m.left).attr('y', m.barTop).attr('width', m.right - m.left + 1).attr('height', m.barBottom - m.barTop)
    .attr('fill', `url(#${id})`).attr('stroke', '#999').attr('stroke-width', .8);
  const bar = d3.scaleLinear().domain([0, .1]).range([m.left, m.right]);
  colorbarTicks.forEach(t => label(bar(t), m.barBottom + 19, t, 'middle', 16.5));
}

const panels = [
  { left: 90, right: 305, top: 41, bottom: 210, yDomain: [-8, 8], yTicks: erpATicks, core: aNtErpCore, coreOpacity: .95, band: aNtErpBand, outliers: aNtErpOut },
  { left: 372, right: 587, top: 44, bottom: 213, yDomain: [-8, 8], yTicks: erpATicks, core: aTErpCore, coreOpacity: .85, band: aTErpBand, outliers: aTErpOut, hideTicksAfter: .2 },
  { left: 88, right: 303, top: 252, bottom: 423, yDomain: [-2, 2], yTicks: erosATicks, core: aNtErosCore, coreOpacity: .8, band: aNtErosBand, outliers: aNtErosOut, thick: [aNtEros], thickWidth: 2.4 },
  { left: 372, right: 587, top: 253, bottom: 423, yDomain: [-2, 2], yTicks: erosATicks, core: aTErosCore, coreOpacity: .75, band: aTErosBand, outliers: aTErosOut, thick: [aTEros], thickWidth: 2.4 },
  { left: 90, right: 305, top: 463, bottom: 632, yDomain: [-3, 3], yTicks: bothTicks, thin: [aNtErp], thick: [aNtEros], thickWidth: 3 },
  { left: 373, right: 588, top: 465, bottom: 635, yDomain: [-3, 3], yTicks: bothTicks, thin: [aTErp], thick: [aTEros], thickWidth: 3 },
  { left: 732, right: 947, top: 42, bottom: 211, yDomain: [-3.5, 3], yTicks: bothTicks, core: bNtErpCore, coreOpacity: .7, band: bNtErpBand, outliers: bNtErpOut },
  { left: 1014, right: 1228, top: 43, bottom: 213, yDomain: [-3.5, 3], yTicks: bothTicks, core: bTErpCore, coreOpacity: .7, band: bTErpBand, outliers: bTErpOut, hideTicksAfter: .2 },
  { left: 730, right: 945, top: 252, bottom: 422, yDomain: [-1, 1], yTicks: erosBTicks, core: bNtErosCore, coreOpacity: .7, band: bNtErosBand, outliers: bNtErosOut, thick: [bNtErosComp], thickWidth: 2.4 },
  { left: 1014, right: 1229, top: 253, bottom: 424, yDomain: [-1, 1], yTicks: erosBTicks, core: bTErosCore, coreOpacity: .7, band: bTErosBand, outliers: bTErosOut, thick: [bTErosComp], thickWidth: 2.4 },
  { left: 732, right: 947, top: 463, bottom: 633, yDomain: [-3.5, 3], yTicks: bothTicks, thin: [bNtErp], thick: [bNtEros], thickWidth: 3 },
  { left: 1012, right: 1227, top: 464, bottom: 634, yDomain: [-3.5, 3], yTicks: bothTicks, thin: [bTErp], thick: [bTEros], thickWidth: 3 }
];
panels.forEach(drawPanel);

drawMatrix({ left: 509, right: 637, top: 157, bottom: 260, barTop: 282, barBottom: 291, cols: matrixAColumns, rows: matrixARows, cells: matrixACells });
drawMatrix({ left: 1153, right: 1281, top: 158, bottom: 256, barTop: 277, barBottom: 286, cols: matrixBColumns, rows: matrixBRows, cells: matrixBCells });

// dotted span in the (b) nontarget summary
{
  const p = panels[10];
  const x = d3.scaleLinear().domain(timeDomain).range([p.left, p.right]);
  const y = d3.scaleLinear().domain(p.yDomain).range([p.bottom, p.top]);
  svg.append('line').attr('x1', x(.3)).attr('x2', x(.7)).attr('y1', y(-2)).attr('y2', y(-2))
    .attr('stroke', '#333').attr('stroke-width', 1).attr('stroke-dasharray', '1 1.5');
}

const labels = [
  ['(a)', 15, 22, 17.5, 0, 'start', '#222'], ['(b)', 669, 22, 17.5, 0, 'start', '#222'],
  ['Nontarget', 197, 27, 23.5, 0, 'middle', '#111'], ['Target', 479, 29, 23.5, 0, 'middle', '#111'],
  ['Nontarget', 839, 27, 23.5, 0, 'middle', '#111'], ['Target', 1122, 30, 23.5, 0, 'middle', '#111'],
  ['ERP, z', 59, 127, 20.5, -90, 'middle', '#222'], ['EROS, z', 58, 338, 20.5, -90, 'middle', '#222'], ['ERP & EROS, z', 60, 549, 20.5, -90, 'middle', '#222'],
  ['ERP, z', 703, 127, 20.5, -90, 'middle', '#222'], ['EROS, z', 698, 334, 20.5, -90, 'middle', '#222'], ['ERP & EROS, z', 703, 549, 20.5, -90, 'middle', '#222'],
  ['Independent Components', 24, 335, 21.3, -90, 'middle', '#222'], ['Independent Components', 667, 335, 21.3, -90, 'middle', '#222'],
  ['Time, s', 316, 667, 20.4, 0, 'start', '#222'], ['Time, s', 963, 667, 20.4, 0, 'start', '#222']
];
labels.forEach(([s, lx, ly, size, rot, anchor, fill]) => {
  svg.append('text').attr('transform', `translate(${lx},${ly}) rotate(${rot})`).text(s)
    .attr('text-anchor', anchor).attr('fill', fill).style('font-size', size + 'px');
});

// legends
const legends = [
  { x1: 518, x2: 565, tx: 571, size: 18.5, rows: [['ERP', 477, 484, erpColor, 1.1], ['EROS', 500, 508, '#111', 3]] },
  { x1: 1175, x2: 1221, tx: 1226, size: 15.5, rows: [['EROS', 475, 481, '#111', 3], ['ERP', 497, 502, erpColor, 1.1]] }
];
legends.forEach(l => l.rows.forEach(([s, ly, ty, c, w]) => {
  svg.append('line').attr('x1', l.x1).attr('x2', l.x2).attr('y1', ly).attr('y2', ly).attr('stroke', c).attr('stroke-width', w);
  svg.append('text').attr('x', l.tx).attr('y', ty).text(s).attr('fill', textColor).style('font-size', l.size + 'px');
}));
</script>
</body>
</html>
